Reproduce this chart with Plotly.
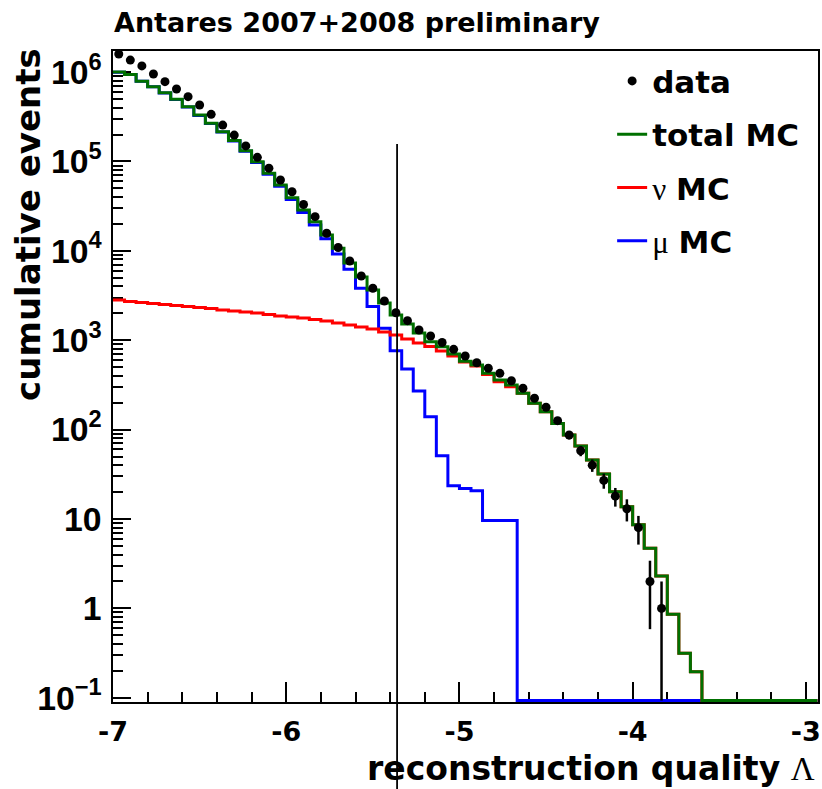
import numpy as np
import plotly.graph_objects as go

# ---------------- data ----------------
BIN_START = -7.0
BIN_WIDTH = 1.0 / 15.0
N_BINS = 61

data_events = [1590000, 1360000, 1170000, 950000, 780000, 645000, 530000, 428000, 336000, 255000,
               197000, 149000, 111000, 84000, 62000, 45800, 33000, 24100, 15700, 10900,
               7690, 5220, 3810, 2745, 2030, 1653, 1300, 1114, 942, 791,
               665, 560, 485, 426, 352, 290, 224, 178, 126, 87,
               58, 40, 27, 18, 13, 8, 2, 1]

total_mc = [1000000, 940000, 790000, 685000, 587000, 495000, 410000, 330000, 267000, 215000,
            171000, 132000, 99300, 73700, 54500, 39300, 28600, 21200, 15000, 10700,
            7310, 5100, 3650, 2610, 1914, 1518, 1205, 962, 845, 701,
            582, 528, 426, 359, 316, 255, 197, 158, 117, 87,
            65.6, 45.7, 31.9, 20.2, 13.7, 8.6, 4.7, 2.3, 0.86, 0.315, 0.196]

nu_mc = [2820, 2712, 2642, 2575, 2509, 2445, 2383, 2322, 2263, 2178,
         2122, 2068, 2015, 1938, 1865, 1817, 1771, 1705, 1641, 1557,
         1479, 1405, 1334, 1236, 1143, 1031, 931, 851, 757, 665,
         570, 514, 413, 343, 302, 255, 197, 158, 117, 87,
         65.6, 45.7, 31.9, 20.2, 13.7, 8.6, 4.7, 2.3, 0.86, 0.315, 0.196]

mu_mc = [997000, 937000, 787000, 682000, 584000, 492000, 407000, 327000, 265000, 213000,
         169000, 130000, 97300, 71800, 52600, 37500, 26800, 19500, 13600, 9200,
         6200, 3800, 2380, 1360, 760, 476, 270, 139, 51, 23.5,
         22, 20.7, 9.6, 9.6, 9.6]

cut_value = -5.36

x_tick_vals = [-7, -6, -5, -4, -3]
x_tick_text = ["-7", "-6", "-5", "-4", "-3"]

X_RANGE = [-7.0, -2.93]
Y_RANGE_LOG = [-1.047, 6.235]

# ---------------- helpers ----------------
FLOOR = 10 ** (Y_RANGE_LOG[0] + 0.017)   # where empty bins are drawn (bottom of frame)
edges = BIN_START + BIN_WIDTH * np.arange(N_BINS + 1)
centers = edges[:-1] + BIN_WIDTH / 2


def pad(vals):
    v = list(vals) + [0] * (N_BINS - len(vals))
    return np.array(v, dtype=float)


def step_trace(vals, color, name, rank, width=3):
    v = pad(vals)
    v = np.where(v > 0, v, FLOOR)
    y = np.append(v, v[-1])
    return go.Scatter(x=edges, y=y, mode="lines", line=dict(color=color, width=width, shape="hv"),
                      name=name, legendgroup=name, legendrank=rank)


FONT = "DejaVu Sans"
NARROW = "Liberation Sans"
SERIF = "Liberation Serif"

fig = go.Figure()
fig.add_trace(step_trace(mu_mc, "#0000ff", f"<span style='font-family:{SERIF}'>μ</span> <b>MC</b>", 4))
fig.add_trace(step_trace(nu_mc, "#ff0000", f"<span style='font-family:{SERIF}'>ν</span> <b>MC</b>", 3))
fig.add_trace(step_trace(total_mc, "#007000", "<b>total MC</b>", 2))

d = np.array(data_events, dtype=float)
err = np.sqrt(d)
err_minus = d - np.maximum(d - err, FLOOR)
fig.add_trace(go.Scatter(
    x=centers[:len(d)], y=d, mode="markers",
    marker=dict(color="black", size=9, symbol="circle"),
    error_y=dict(type="data", symmetric=False, array=err, arrayminus=err_minus,
                 color="black", thickness=2.5, width=0),
    name="<b>data</b>", legendgroup="data", legendrank=1, cliponaxis=False))

# cut line
fig.add_shape(type="line", xref="x", yref="paper", x0=cut_value, x1=cut_value,
              y0=-0.134, y1=0.857, line=dict(color="black", width=1.8))

fig.add_annotation(text="<b>Antares 2007+2008 preliminary</b>", xref="paper", yref="paper",
                   x=0, y=1.0445, xanchor="left", yanchor="middle", showarrow=False, borderpad=0,
                   font=dict(family=FONT, size=27, color="black"))
fig.add_annotation(text="<b>cumulative events</b>", xref="paper", yref="paper",
                   x=-0.12, y=0.7335, xanchor="center", yanchor="middle", textangle=-90,
                   showarrow=False, borderpad=0, font=dict(family=FONT, size=34, color="black"))
fig.add_annotation(text=f"<b>reconstruction quality</b> <span style='font-family:{SERIF}'>Λ</span>",
                   xref="paper", yref="paper", x=0.997, y=-0.1336, xanchor="right", yanchor="bottom",
                   showarrow=False, borderpad=0, font=dict(family=FONT, size=33, color="black"))

fig.update_xaxes(range=X_RANGE, tickmode="array", tickvals=x_tick_vals, ticktext=x_tick_text,
                 ticks="inside", ticklen=20, tickwidth=2, tickcolor="black",
                 minor=dict(ticks="inside", ticklen=10, tickwidth=1.5, tickcolor="black",
                            tickmode="linear", tick0=-7, dtick=0.2),
                 showline=True, linewidth=2, linecolor="black", mirror=True,
                 showgrid=False, zeroline=False, layer="below traces", automargin=False,
                 ticklabelstandoff=5,
                 tickfont=dict(family=FONT, size=27, color="black", weight="bold"))
fig.update_yaxes(type="log", range=Y_RANGE_LOG, dtick=1, exponentformat="power",
                 ticks="inside", ticklen=18, tickwidth=2, tickcolor="black",
                 minor=dict(ticks="inside", ticklen=10, tickwidth=1.5, tickcolor="black", dtick="D1"),
                 showline=True, linewidth=2, linecolor="black", mirror=True,
                 showgrid=False, zeroline=False, layer="below traces", automargin=False,
                 ticklabelstandoff=4,
                 tickfont=dict(family=NARROW, size=27, color="black", weight="bold"))

fig.update_layout(
    width=822, height=789,
    margin=dict(l=113, r=4, t=51, b=87, autoexpand=False),
    plot_bgcolor="white", paper_bgcolor="white",
    font=dict(family=FONT, color="black"),
    showlegend=True,
    legend=dict(x=0.708, y=0.995, xanchor="left", yanchor="top",
                bgcolor="rgba(0,0,0,0)", borderwidth=0,
                font=dict(family=FONT, size=31, color="black"),
                traceorder="grouped", tracegroupgap=10),
)

fig.write_html("out.html", config={"displayModeBar": False},
               post_script="document.body.style.margin='0px';"
                           "document.body.style.padding='0px';"
                           "document.documentElement.style.overflow='hidden';")
